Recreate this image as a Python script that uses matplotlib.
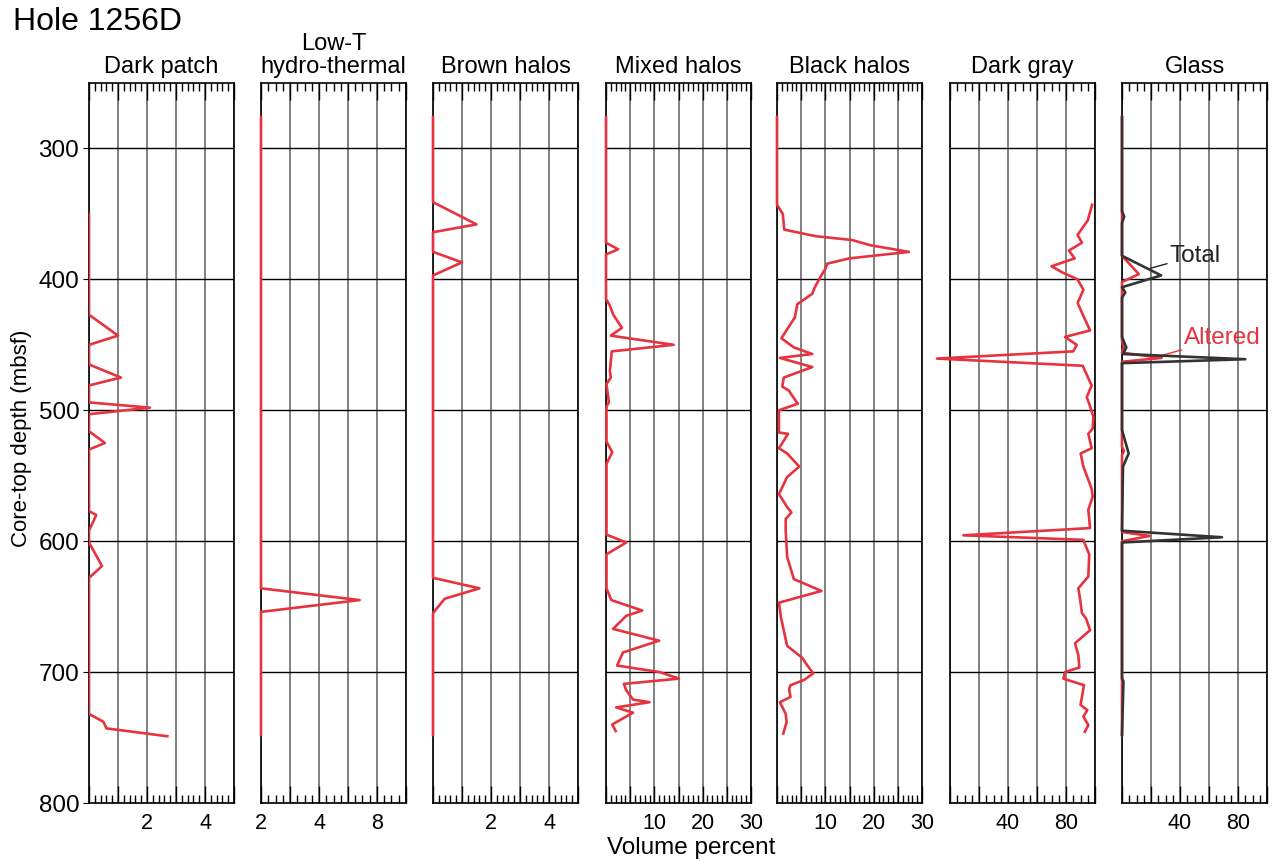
import numpy as np
import matplotlib
matplotlib.use("Agg")
import matplotlib.pyplot as plt
from matplotlib.ticker import MultipleLocator

plt.rcParams['font.family'] = ['Liberation Sans', 'DejaVu Sans']

# depth (mbsf) and volume percent
dp_depth = [350, 427, 443, 450, 465, 475, 481, 494, 498, 503, 516, 525, 530, 577, 580, 592, 601, 619, 628, 732, 738, 743, 749]
dp_val = [0, 0, 1.0, 0, 0, 1.1, 0, 0, 2.1, 0, 0, 0.55, 0, 0, 0.25, 0, 0, 0.45, 0, 0, 0.5, 0.6, 2.7]

lt_depth = [276, 636, 645, 654, 748]
lt_val = [0, 0, 6.8, 0, 0]

bh_depth = [276, 341, 358, 364, 379, 387, 397, 628, 636, 644, 655, 748]
bh_val = [0, 0, 1.5, 0, 0, 1.0, 0, 0, 1.6, 0.4, 0, 0]

mh_depth = [276, 372, 377, 381, 415, 420, 427, 437, 443, 450, 455, 470, 475, 480, 494, 497, 524, 532, 541, 595,
            601, 610, 636, 645, 653, 657, 667, 676, 685, 695, 700, 705, 709, 714, 721, 723, 727, 731, 740, 745]
mh_val = [0, 0, 2.5, 0, 0, 0.8, 1.5, 3.3, 1.0, 14, 1.2, 0.8, 1.0, 0.1, 0.6, 0.1, 0.1, 1.3, 0.1, 0.1,
          4.2, 0.1, 0.1, 1.1, 7.5, 4.2, 1.45, 11, 3.5, 2.3, 11.1, 15.1, 3.7, 4.2, 5.6, 9, 2.1, 5.6, 1.3, 2.0]

bk_depth = [276, 343, 350, 362, 367, 370, 374, 379, 382, 384, 388, 392, 398, 407, 411, 419, 429, 445, 452, 457,
            460, 467, 475, 482, 485, 487, 495, 500, 517, 518, 529, 533, 543, 551, 564, 574, 578, 583, 592, 612,
            629, 638, 647, 658, 680, 689, 694, 701, 706, 710, 713, 719, 723, 732, 738, 747]
bk_val = [0, 0, 1.2, 1.5, 8, 15.6, 19.4, 27.3, 19.9, 14.9, 10.4, 10, 9, 7.7, 7.3, 4.2, 3.7, 0.9, 3.5, 7.3,
          0.6, 7.3, 1.4, 1.1, 2.5, 2.8, 4.3, 0.4, 0.4, 2.3, 0.4, 2.1, 4.6, 2.1, 0.4, 2.1, 3.0, 1.8, 1.8, 2.1,
          3.5, 9.2, 0.4, 0.8, 2.1, 5.2, 6.1, 7.5, 5.6, 2.8, 2.5, 2.8, 0.6, 1.8, 2.0, 1.3]

dg_depth = [343, 355, 366, 372, 378, 384, 390, 395, 400, 408, 418, 428, 439, 444, 450, 455, 460.5, 466, 481, 490,
            495, 505, 514, 518, 529, 533, 543, 560, 566, 576, 590, 595.5, 599, 602, 610, 627, 636, 644, 655, 659,
            668, 678, 687, 696.5, 700, 705, 710, 719, 725, 729, 734, 740.5, 745.6]
dg_val = [98, 95, 88, 91, 82, 86, 70, 78, 88, 92, 88, 92, 96.6, 79.3, 87.4, 85, -9, 91.5, 97.7, 94.3,
          96, 98.9, 98.4, 95.4, 97.7, 90.1, 92, 97.7, 98.4, 95.4, 96.6, 9.2, 92, 93, 96, 95.4, 88.5, 89.7, 91, 93.8,
          96.6, 86.2, 88.5, 89.2, 79.3, 78.2, 92.4, 91, 90, 94.7, 92, 95.4, 93]

gt_depth = [276, 348, 352, 357, 382, 397, 406, 410, 414, 444, 452, 457, 461, 464, 515, 533, 543, 592, 597, 601, 705, 707, 748]
gt_val = [0, 0, 1.5, 0, 0, 27, 0, 2.3, 0, 0, 3, 0.7, 85, 0, 0, 4.6, 0.7, 0, 69, 0, 0, 1, 0]

ga_depth = [276, 382, 396, 402, 447, 452, 456, 460, 463, 528, 531, 534, 593, 596, 600, 748]
ga_val = [0, 0, 11.6, 0, 0, 1.4, 0, 27.3, 0, 0, 1.4, 0, 0, 19.2, 0, 0]

titles = ['Dark patch', 'Low-T\nhydro-thermal', 'Brown halos', 'Mixed halos', 'Black halos', 'Dark gray', 'Glass']
xmax = [5, 10, 5, 30, 30, 100, 100]
major = [1, 2, 1, 5, 5, 20, 20]
minor = [0.2, 0.5, 0.2, 1, 1, 5, 5]
xlabels = [{2: '2', 4: '4'}, {0: '2', 4: '4', 8: '8'}, {2: '2', 4: '4'},
           {10: '10', 20: '20', 30: '30'}, {10: '10', 20: '20', 30: '30'},
           {40: '40', 80: '80'}, {40: '40', 80: '80'}]
depth_ticks = [300, 400, 500, 600, 700, 800]

red = '#e6333f'
dark = '#333333'

W, H = 1273, 865
fig = plt.figure(figsize=(W / 100, H / 100), dpi=100)
lefts = [89, 261, 433, 606, 777, 950, 1122]

axes = []
for i, x in enumerate(lefts):
    ax = fig.add_axes([x / W, 1 - 803 / H, 145 / W, 720 / H])
    ax.set_xlim(0, xmax[i])
    ax.set_ylim(800, 250)
    ticks = np.arange(0, xmax[i] + 1e-9, major[i])
    ax.set_xticks(ticks)
    ax.set_xticklabels([xlabels[i].get(int(round(t)), '') for t in ticks])
    ax.xaxis.set_minor_locator(MultipleLocator(minor[i]))
    ax.tick_params(axis='x', which='both', direction='in', top=True, bottom=True, width=1, labelsize=15.5, pad=7)
    ax.tick_params(axis='x', which='major', length=12)
    ax.tick_params(axis='x', which='minor', length=6)
    ax.set_yticks(depth_ticks)
    ax.grid(axis='x', color='#5f5f5f', lw=1.1)
    ax.grid(axis='y', color='black', lw=1)
    if i == 0:
        ax.tick_params(axis='y', direction='out', length=4, labelsize=17.5, pad=3)
    else:
        ax.tick_params(axis='y', length=0, labelleft=False)
    for s in ax.spines.values():
        s.set_linewidth(1.2)
    ax.set_title(titles[i], fontsize=17, pad=7, linespacing=1.05)
    axes.append(ax)

lw = 1.9
axes[0].plot(dp_val, dp_depth, color=red, lw=lw, zorder=3)
axes[1].plot(lt_val, lt_depth, color=red, lw=lw, zorder=3, clip_on=False)
axes[2].plot(bh_val, bh_depth, color=red, lw=lw, zorder=3, clip_on=False)
axes[3].plot(mh_val, mh_depth, color=red, lw=lw, zorder=3, clip_on=False)
axes[4].plot(bk_val, bk_depth, color=red, lw=lw, zorder=3, clip_on=False)
axes[5].plot(dg_val, dg_depth, color=red, lw=lw, zorder=3, clip_on=False)
axes[6].plot(ga_val, ga_depth, color=red, lw=lw, zorder=3, clip_on=False)
axes[6].plot(gt_val, gt_depth, color=dark, lw=lw, zorder=4, clip_on=False)

axes[6].annotate('Total', xy=(19.4, 391.6), xytext=(33, 382), fontsize=17.5, color='#222222',
                 va='center', ha='left', arrowprops=dict(arrowstyle='-', color='#222222', lw=1, shrinkA=0, shrinkB=0))
axes[6].annotate('Altered', xy=(21.5, 460), xytext=(43, 445), fontsize=17.5, color=red,
                 va='center', ha='left', arrowprops=dict(arrowstyle='-', color=red, lw=1, shrinkA=0, shrinkB=0))

fig.text(13 / W, 1 - 22 / H, 'Hole 1256D', fontsize=23, va='center', ha='left')
fig.text(22 / W, 1 - 438 / H, 'Core-top depth (mbsf)', fontsize=16, rotation=90, va='center', ha='center')
fig.text(691 / W, 1 - 848 / H, 'Volume percent', fontsize=17.5, va='center', ha='center')

fig.savefig('out.png', dpi=100)
